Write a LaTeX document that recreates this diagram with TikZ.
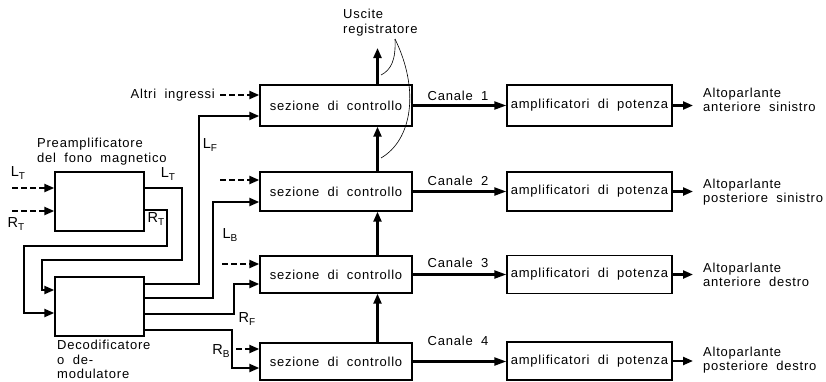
\documentclass[tikz,border=0pt]{standalone}
\usepackage{fontspec}
\setmainfont{Liberation Sans}[LetterSpace=6,WordSpace=1.9]
\usetikzlibrary{arrows.meta}
\newcommand\sbs[1]{\raisebox{-0.45ex}{\fontsize{10}{10}\selectfont #1}}
\begin{document}
\begin{tikzpicture}[x=1pt,y=-1pt,
  every node/.style={font=\fontsize{13}{14.5}\selectfont, inner sep=0pt},
  sl/.style={font=\fontsize{14.5}{15}\selectfont},
  blk/.style={draw, line width=1.4pt, minimum height=#1},
  cbox/.style={blk=#1, minimum width=152},
  abox/.style={blk=#1, minimum width=165},
  sig/.style={line width=2.2pt, -{Triangle[length=10pt,width=8pt]}},
  dsh/.style={sig, dash pattern=on 6pt off 3pt},
  lbl/.style={align=left, anchor=west},
  ptr/.style={line width=0.6pt}
]
\useasboundingbox (0,0) rectangle (826,381);
% control sections
\node[cbox=41] (c1) at (336,105.5) {sezione di controllo};
\node[cbox=39] (c2) at (336,191.5) {sezione di controllo};
\node[cbox=37] (c3) at (336,274.5) {sezione di controllo};
\node[cbox=37] (c4) at (336,361.5) {sezione di controllo};
% power amps
\node[abox=41] (a1) at (589.5,105.5) {amplificatori di potenza};
\node[abox=39] (a2) at (589.5,191.5) {amplificatori di potenza};
\node[abox=38] (a3) at (589.5,274.5) {amplificatori di potenza};
\node[abox=38] (a4) at (589.5,361) {amplificatori di potenza};
% speakers
\node[lbl] (s1) at (703,100) {Altoparlante\\anteriore sinistro};
\node[lbl] (s2) at (703,192) {Altoparlante\\posteriore sinistro};
\node[lbl] (s3) at (703,275) {Altoparlante\\anteriore destro};
\node[lbl] (s4) at (703,360) {Altoparlante\\posteriore destro};
\foreach \i/\y in {1/105.5,2/191.5,3/274.5,4/361}{
  \draw[sig] (a\i.east |- 0,\y) -- ([xshift=-10pt]s\i.west |- 0,\y);
}
% channels
\foreach \i/\y in {1/105.5,2/191.5,3/274.5,4/361.5}{
  \draw[sig, -{Triangle[length=12pt,width=8pt]}] (c\i.east |- 0,\y) -- (a\i.west |- 0,\y);
}
\node (k1) at (458,96) {Canale 1};
\node (k2) at (458,181) {Canale 2};
\node (k3) at (458,263) {Canale 3};
\node (k4) at (458,341) {Canale 4};
% vertical arrows
\coordinate (xa) at (377.5,0);
\coordinate (top) at (377.5,48);
\draw[sig] (c1.north -| xa) -- (top);
\draw[sig] (c2.north -| xa) -- (c1.south -| xa);
\draw[sig] (c3.north -| xa) -- (c2.south -| xa);
\draw[sig] (c4.north -| xa) -- (c3.south -| xa);
% recorder outputs
\node[align=left, anchor=north west] (usc) at (343,9) {Uscite\\registratore};
\coordinate (up) at (395,39);
\draw[ptr] (up) .. controls (396,60) and (391,70) .. (381,75);
\draw[ptr] (up) .. controls (420,90) and (412,140) .. (381,158);
% other inputs
\node[anchor=east] (alt) at (215,95) {Altri ingressi};
\draw[dsh] (220,95) -- (c1.west |- 0,95);
\draw[dsh] (220,180) -- (c2.west |- 0,180);
\draw[dsh] (222,264) -- (c3.west |- 0,264);
\draw[dsh] (236,349) -- (c4.west |- 0,349);
% preamp and decoder
\node[draw, line width=1.4pt, minimum width=89, minimum height=59] (pre) at (99.5,201.5) {};
\node[draw, line width=1.4pt, minimum width=89, minimum height=59] (dec) at (99.5,306.5) {};
\node[lbl] (prel) at (37,151.5) {Preamplificatore\\del fono magnetico};
\node[align=left, anchor=north west] (decl) at (57,340) {Decodificatore\\o de-\\modulatore};
\draw[dsh] (12,188) -- (pre.west |- 0,188);
\draw[dsh] (12,211) -- (pre.west |- 0,211);
\node[sl] (lti) at (18,173) {L\sbs{T}};
\node[sl] (rti) at (16,224) {R\sbs{T}};
\draw[sig] (pre.east |- 0,188) -- (182,188) -- (182,260) -- (42,260) -- (42,290) -- (dec.west |- 0,290);
\draw[sig] (pre.east |- 0,210) -- (167,210) -- (167,246) -- (24,246) -- (24,313) -- (dec.west |- 0,313);
\node[sl] (lto) at (168,174) {L\sbs{T}};
\node[sl] (rto) at (156,219) {R\sbs{T}};
% decoder outputs
\draw[sig] (dec.east |- 0,284) -- (199,284) -- (199,116) -- (c1.west |- 0,116);
\draw[sig] (dec.east |- 0,298) -- (213,298) -- (213,202) -- (c2.west |- 0,202);
\draw[sig] (dec.east |- 0,314) -- (234,314) -- (234,284) -- (c3.west |- 0,284);
\draw[sig] (dec.east |- 0,330) -- (232,330) -- (232,368) -- (c4.west |- 0,368);
\node[sl] (lf) at (210,145) {L\sbs{F}};
\node[sl] (lb) at (230,235) {L\sbs{B}};
\node[sl] (rf) at (247,319) {R\sbs{F}};
\node[sl] (rb) at (221,351) {R\sbs{B}};
\end{tikzpicture}
\end{document}
